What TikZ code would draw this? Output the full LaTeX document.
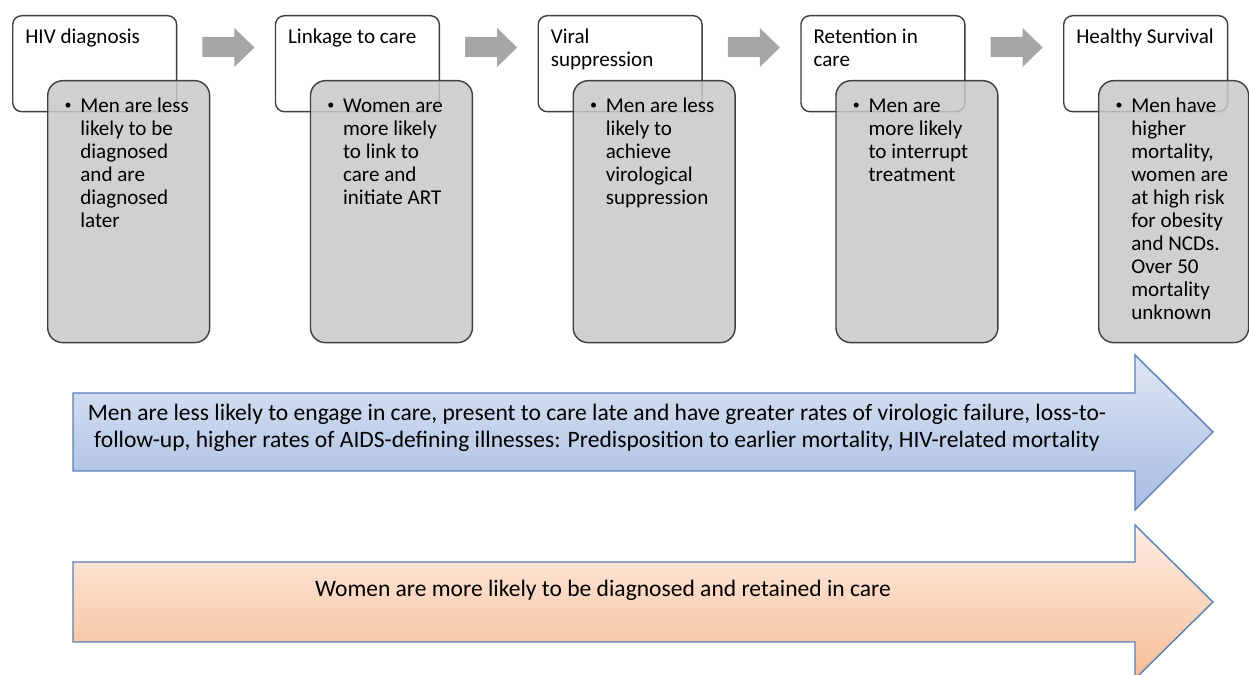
\documentclass[tikz,border=0pt]{standalone}
\usepackage{fontspec}
\setmainfont{Carlito}
\usetikzlibrary{positioning,calc}
\definecolor{framegray}{HTML}{3F3F3F}
\definecolor{notegray}{HTML}{C8C8C8}
\definecolor{chevrongray}{HTML}{A6A6A6}
\definecolor{edgeblue}{HTML}{5A7EB8}
\definecolor{menlight}{HTML}{DEE6F3}
\definecolor{mendark}{HTML}{A6BCE2}
\definecolor{womenlight}{HTML}{FDEEE5}
\definecolor{womendark}{HTML}{F6BD95}
\begin{document}
\begin{tikzpicture}[x=.02cm,y=-.02cm,
 phase/.style={draw=framegray,line width=.8pt,rounded corners=.18cm,fill=white,anchor=north west,minimum width=3.28cm,minimum height=1.92cm,inner sep=0pt},
 detail/.style={draw=framegray,line width=.8pt,rounded corners=.3cm,fill=notegray,fill opacity=.85,anchor=north west,minimum height=5.24cm,inner sep=0pt},
 chevron/.style={fill=chevrongray},
 band/.style={draw=edgeblue,line width=.8pt},
 lab/.style={font=\fontsize{12}{13.1}\selectfont,align=left,anchor=base west,inner sep=0pt},
 dot/.style={font=\fontsize{8}{8}\selectfont,inner sep=0pt},
 wide/.style={align=center,anchor=base,inner sep=0pt,font=\fontsize{13.4}{15.9}\selectfont}]
\useasboundingbox (0,0) rectangle (1249,675);
\foreach \i/\w/\nt/\nb/\title/\body [evaluate=\i as \x using 12+262.75*(\i-1)] in {
  1/3.24/1/6/{HIV diagnosis}/{Men are less\\likely to be\\diagnosed\\and are\\diagnosed\\later},
  2/3.24/1/5/{Linkage to care}/{Women are\\more likely\\to link to\\care and\\initiate ART},
  3/3.24/2/5/{Viral\\suppression}/{Men are less\\likely to\\achieve\\virological\\suppression},
  4/3.24/2/4/{Retention in\\care}/{Men are\\more likely\\to interrupt\\treatment},
  5/3.0/1/10/{Healthy Survival}/{Men have\\higher\\mortality,\\women are\\at high risk\\for obesity\\and NCDs.\\Over 50\\mortality\\unknown}}{
  \node[phase] (t\i) at (\x,15) {};
  \node[detail,minimum width=\w cm] (d\i) at (\x+35,80) {};
  \node[lab] (h\i) at (\x+13,{44+23*(\nt-1)}) {\title};
  \node[lab] (b\i) at (\x+68,{113+23*(\nb-1)}) {\body};
  \node[dot] (p\i) at (\x+56,106.7) {\textbullet};
}
\foreach \i in {1,...,4}
  \fill[chevron] ($(t\i.north east)+(25,22)$) -- ++(32,0) -- ++(0,-9) -- ++(20,19.5) -- ++(-20,19.5) -- ++(0,-10) -- ++(-32,0) -- cycle;
\path[band,top color=menlight,bottom color=mendark] (73,393) -- (1135,393) -- (1135,355) -- (1213,432) -- (1135,510) -- (1135,471) -- (73,471) -- cycle;
\node[wide] (men) at (597,448) {Men are less likely to engage in care, present to care late and have greater rates of virologic failure, loss-to-\\follow-up, higher rates of AIDS-defining illnesses: Predisposition to earlier mortality, HIV-related mortality};
\path[band,top color=womenlight,bottom color=womendark] (73,562) -- (1135,562) -- (1135,525) -- (1213,602) -- (1135,679) -- (1135,642) -- (73,642) -- cycle;
\node[wide] (women) at (603,597) {Women are more likely to be diagnosed and retained in care};
\end{tikzpicture}
\end{document}
